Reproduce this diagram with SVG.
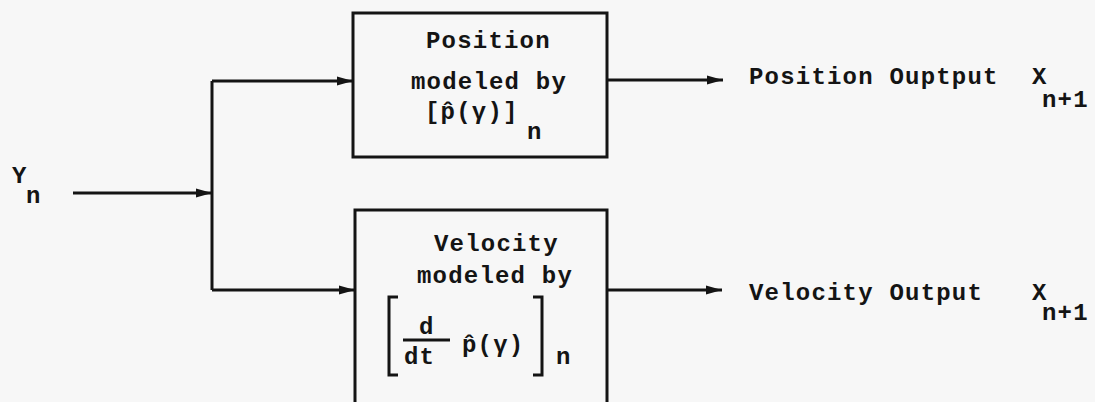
<svg xmlns="http://www.w3.org/2000/svg" width="1095" height="402" viewBox="0 0 1095 402">
<style>
.t{font-family:"Liberation Mono","DejaVu Sans Mono",monospace;font-weight:bold;font-size:24px;letter-spacing:1.2px;fill:#141414}
.box{fill:none;stroke:#141414;stroke-width:3}
.ln{fill:none;stroke:#141414;stroke-width:3}
.br{fill:none;stroke:#141414;stroke-width:3;stroke-linejoin:miter}
</style>
<defs>
<marker id="ah" viewBox="0 0 16 10" refX="16" refY="5" markerWidth="16" markerHeight="10" markerUnits="userSpaceOnUse" orient="auto">
<path d="M0,0.5 L16,5 L0,9.5 Z" fill="#141414"/>
</marker>
</defs>
<rect width="1095" height="402" fill="#f7f7f7"/>
<g id="connectors">
<path class="ln" d="M73,193 H212" marker-end="url(#ah)"/>
<path class="ln" d="M212,81 V290"/>
<path class="ln" d="M212,81 H353" marker-end="url(#ah)"/>
<path class="ln" d="M212,290 H355" marker-end="url(#ah)"/>
<path class="ln" d="M607,80 H723" marker-end="url(#ah)"/>
<path class="ln" d="M607,290 H722" marker-end="url(#ah)"/>
</g>
<g id="input">
<text class="t" x="12" y="183">Y</text>
<text class="t" x="26" y="203">n</text>
</g>
<g id="position-box">
<rect class="box" x="353" y="13" width="254" height="144"/>
<text class="t" x="426" y="48">Position</text>
<text class="t" x="411" y="89">modeled by</text>
<text class="t" x="425" y="119">[p̂(γ)]</text>
<text class="t" x="527" y="139">n</text>
</g>
<g id="velocity-box">
<rect class="box" x="355" y="210" width="252" height="200"/>
<text class="t" x="434" y="251">Velocity</text>
<text class="t" x="417" y="283">modeled by</text>
<path class="br" d="M398,297 H389 V375 H398"/>
<path class="br" d="M533,297 H542 V375 H533"/>
<text class="t" x="419" y="334">d</text>
<path class="ln" d="M403,340 H450"/>
<text class="t" x="404" y="364">dt</text>
<text class="t" x="462" y="352">p̂(γ)</text>
<text class="t" x="556" y="364">n</text>
</g>
<g id="position-output">
<text class="t" x="749" y="84">Position Ouptput</text>
<text class="t" x="1032" y="84">X</text>
<text class="t" x="1042" y="107">n+1</text>
</g>
<g id="velocity-output">
<text class="t" x="749" y="300">Velocity Output</text>
<text class="t" x="1032" y="300">X</text>
<text class="t" x="1042" y="320">n+1</text>
</g>
</svg>
